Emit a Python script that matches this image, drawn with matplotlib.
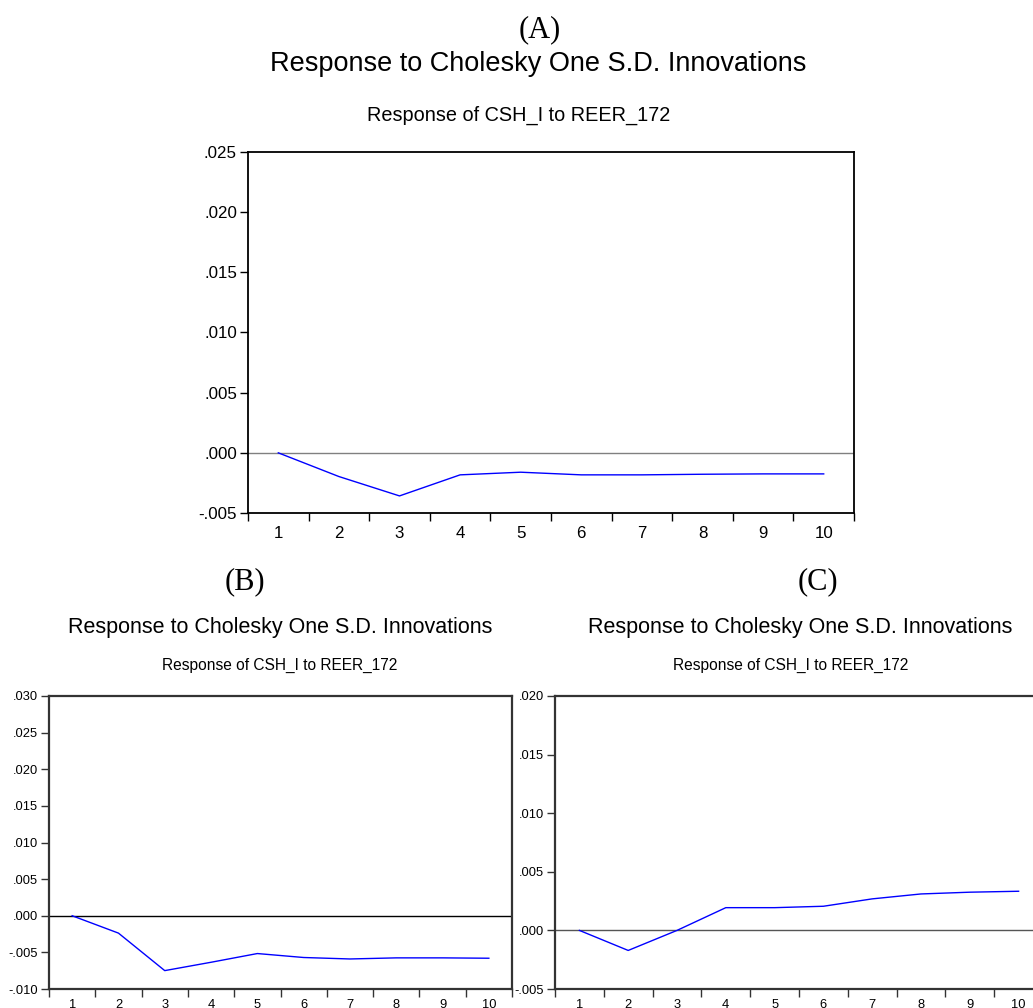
import numpy as np
import matplotlib
matplotlib.use("Agg")
import matplotlib.pyplot as plt
from matplotlib.ticker import FuncFormatter, FixedLocator

# impulse responses
periods = [1, 2, 3, 4, 5, 6, 7, 8, 9, 10]
resp_a = [0.0, -0.00197, -0.00358, -0.00183, -0.00161, -0.00183, -0.00183, -0.00178, -0.00175, -0.00175]
resp_b = [0.0, -0.00237, -0.00749, -0.00635, -0.00516, -0.00570, -0.00590, -0.00575, -0.00575, -0.00580]
resp_c = [0.0, -0.00171, 0.0, 0.00194, 0.00194, 0.00206, 0.00269, 0.00311, 0.00326, 0.00334]

yticks_a = [-0.005, 0.0, 0.005, 0.010, 0.015, 0.020, 0.025]
yticks_b = [-0.010, -0.005, 0.0, 0.005, 0.010, 0.015, 0.020, 0.025, 0.030]
yticks_c = [-0.005, 0.0, 0.005, 0.010, 0.015, 0.020]

main_title = "Response to Cholesky One S.D. Innovations"
sub_title = "Response of CSH_I to REER_172"

W, H = 1033, 1008
fig = plt.figure(figsize=(W / 100, H / 100), dpi=100)
plt.rcParams['font.family'] = ['Liberation Sans', 'DejaVu Sans']


def fmt(v, pos):
    s = "%.3f" % v
    if abs(v) < 1e-12:
        return ".000"
    return s.replace("0.", ".", 1)


def panel(l, t, r, b, vals, yt, fs, lw_spine, spine_col, zero_col):
    ax = fig.add_axes([l / W, 1 - b / H, (r - l) / W, (b - t) / H])
    ax.plot(periods, vals, color="#0000ff", lw=1.0)
    ax.axhline(0, color=zero_col, lw=1.0, zorder=1)
    ax.set_xlim(0.5, 10.5)
    ax.set_ylim(yt[0], yt[-1])
    ax.set_yticks(yt)
    ax.yaxis.set_major_formatter(FuncFormatter(fmt))
    ax.set_xticks(periods)
    ax.set_xticklabels([str(p) for p in periods])
    ax.xaxis.set_minor_locator(FixedLocator(np.arange(0.5, 11, 1.0)))
    ax.tick_params(axis="x", which="major", length=0, pad=fs * 0.75, labelsize=fs)
    ax.tick_params(axis="x", which="minor", length=6, width=1, color=spine_col, direction="out")
    ax.tick_params(axis="y", length=6, width=1, color=spine_col, direction="out", labelsize=fs, pad=2)
    for sp in ax.spines.values():
        sp.set_linewidth(lw_spine)
        sp.set_color(spine_col)
    return ax


# panel A
panel(248, 152, 854, 513, resp_a, yticks_a, 12.2, 1.3, "#000000", "#808080")
fig.text(540 / W, 1 - 30 / H, "(A)", family="Liberation Serif", fontsize=22, ha="center", va="center")
fig.text(538 / W, 1 - 64 / H, main_title, fontsize=19.5, ha="center", va="center")
fig.text(519 / W, 1 - 115 / H, sub_title, fontsize=14.3, ha="center", va="center")

# panel B
panel(49, 696, 512, 989, resp_b, yticks_b, 9.3, 1.6, "#333333", "#000000")
fig.text(245 / W, 1 - 582 / H, "(B)", family="Liberation Serif", fontsize=22, ha="center", va="center")
fig.text(280 / W, 1 - 627 / H, main_title, fontsize=15.5, ha="center", va="center")
fig.text(280 / W, 1 - 665 / H, sub_title, fontsize=11.2, ha="center", va="center")

# panel C
panel(555, 696, 1043, 989, resp_c, yticks_c, 9.3, 1.6, "#333333", "#555555")
fig.text(818 / W, 1 - 582 / H, "(C)", family="Liberation Serif", fontsize=22, ha="center", va="center")
fig.text(800 / W, 1 - 627 / H, main_title, fontsize=15.5, ha="center", va="center")
fig.text(791 / W, 1 - 665 / H, sub_title, fontsize=11.2, ha="center", va="center")

fig.savefig("out.png", dpi=100)
